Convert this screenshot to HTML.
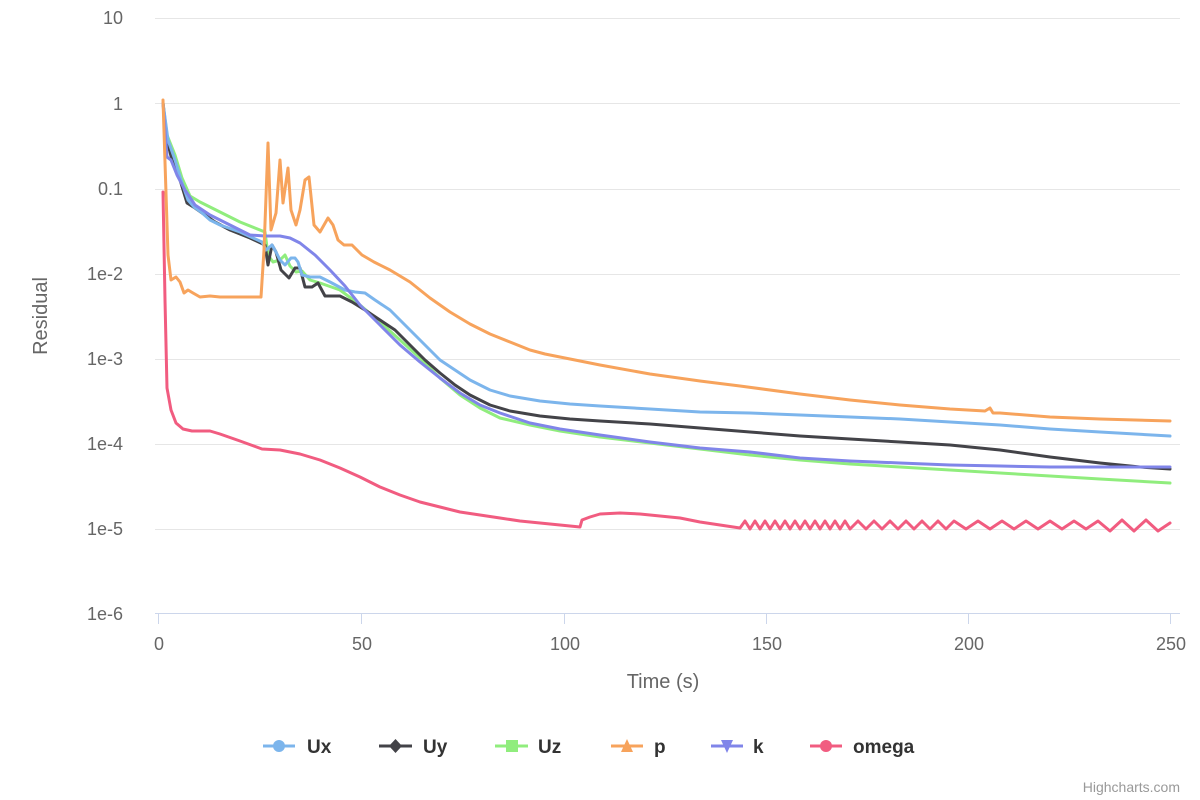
<!DOCTYPE html>
<html><head><meta charset="utf-8"><style>
html,body{margin:0;padding:0;background:#fff;}
svg{display:block;font-family:"Liberation Sans",sans-serif;}
</style></head><body>
<svg id="s" width="1200" height="800" xmlns="http://www.w3.org/2000/svg">
<g stroke="#e6e6e6" stroke-width="1">
<line x1="155" x2="1180" y1="18.5" y2="18.5"/><line x1="155" x2="1180" y1="103.5" y2="103.5"/>
<line x1="155" x2="1180" y1="189.5" y2="189.5"/><line x1="155" x2="1180" y1="274.5" y2="274.5"/>
<line x1="155" x2="1180" y1="359.5" y2="359.5"/><line x1="155" x2="1180" y1="444.5" y2="444.5"/>
<line x1="155" x2="1180" y1="529.5" y2="529.5"/>
</g>
<line x1="155" x2="1180" y1="613.5" y2="613.5" stroke="#ccd6eb"/>
<g stroke="#ccd6eb"><line x1="158.5" x2="158.5" y1="614" y2="624"/><line x1="361.5" x2="361.5" y1="614" y2="624"/><line x1="564.5" x2="564.5" y1="614" y2="624"/><line x1="766.5" x2="766.5" y1="614" y2="624"/><line x1="968.5" x2="968.5" y1="614" y2="624"/><line x1="1170.5" x2="1170.5" y1="614" y2="624"/></g>
<g fill="#666" font-size="18" text-anchor="end">
<text x="123" y="24">10</text><text x="123" y="110">1</text><text x="123" y="195">0.1</text><text x="123" y="280">1e-2</text><text x="123" y="365">1e-3</text><text x="123" y="450">1e-4</text><text x="123" y="535">1e-5</text><text x="123" y="620">1e-6</text>
</g>
<g fill="#666" font-size="18" text-anchor="middle">
<text x="159" y="650">0</text><text x="362" y="650">50</text><text x="565" y="650">100</text><text x="767" y="650">150</text><text x="969" y="650">200</text><text x="1171" y="650">250</text>
<text x="663" y="688" font-size="20">Time (s)</text>
<text transform="translate(47,316) rotate(-90)" font-size="20">Residual</text>
</g>
<g fill="none" stroke-width="3" stroke-linejoin="round" stroke-linecap="round">
<polyline id="om" stroke="#f15c80" points="163,192 165,300 167,388 171,410 176,423 183,429 192,431 200,431 210,431 220,434 240,441 262,449 280,450 300,454 320,460 340,468 360,477 380,487 400,495 420,502 440,507 460,512 480,515 500,518 520,521 540,523 560,525 580,527 582,520 590,517 600,514 620,513 640,514 660,516 680,518 700,522 720,525 740,528"/>
<polyline stroke="#90ed7d" points="163,103 167,135 175,155 182,178 190,196 200,202 220,212 240,222 265,232 268,255 273,262 280,260 285,255 290,266 296,272 302,271 310,280 320,283 340,290 360,305 380,322 400,340 420,358 440,378 460,395 480,408 500,418 530,425 560,431 600,437 650,443 700,449 750,455 800,460 850,464 900,467 950,470 1000,473 1050,476 1100,479 1170,483"/>
<polyline stroke="#434348" points="163,103 167,140 172,160 180,180 187,203 195,208 205,215 215,222 230,230 250,238 265,245 268,265 272,245 276,252 281,270 289,278 295,268 300,268 305,287 312,287 318,283 325,296 340,296 352,302 365,310 380,320 395,330 410,345 425,360 440,373 455,385 470,395 490,405 510,411 540,416 570,419 600,421 650,424 700,428 750,432 800,436 850,439 900,442 950,445 1000,450 1050,457 1100,463 1140,467 1170,469"/>
<polyline stroke="#7cb5ec" points="163,103 168,140 175,160 181,180 188,200 194,207 201,212 210,220 220,225 240,232 262,242 266,250 272,245 276,252 280,260 285,265 291,258 295,258 298,262 302,275 310,277 320,277 330,282 345,290 355,292 365,293 375,300 390,310 400,320 410,330 420,340 430,350 440,360 455,370 470,380 490,390 510,396 540,401 570,404 600,406 650,409 700,412 750,413 800,415 850,417 900,419 950,422 1000,425 1050,429 1100,432 1170,436"/>
<polyline stroke="#8085e9" points="163,103 167,157 171,160 177,175 185,190 195,205 210,215 230,225 250,235 265,236 280,236 290,238 300,243 315,255 330,270 345,286 360,305 380,325 400,345 420,362 440,378 460,393 480,405 500,413 530,423 560,429 600,435 650,442 700,448 750,452 800,458 850,461 900,463 950,465 1000,466 1050,467 1100,467 1170,467"/>
<polyline stroke="#f7a35c" points="163,100 168,255 171,280 176,277 180,282 184,293 188,290 193,293 200,297 210,296 220,297 230,297 261,297 264,250 268,143 271,230 276,213 280,160 283,203 288,168 291,210 296,225 300,210 305,180 309,177 314,225 320,232 328,218 333,225 338,240 344,245 352,245 362,255 374,262 390,270 410,282 430,298 450,312 470,324 490,334 510,342 530,350 545,354 565,358 600,365 650,374 700,381 740,386 800,394 850,400 900,405 950,409 985,411 990,408 993,413 1000,413 1050,417 1100,419 1170,421"/>
</g>
<g font-size="19" font-weight="bold" fill="#333">
<line x1="263" x2="295" y1="746" y2="746" stroke="#7cb5ec" stroke-width="3"/><circle cx="279" cy="746" r="6" fill="#7cb5ec"/><text x="307" y="753">Ux</text>
<line x1="379" x2="412" y1="746" y2="746" stroke="#434348" stroke-width="3"/><path d="M395.5 739 L402 746 L395.5 753 L389 746Z" fill="#434348"/><text x="423" y="753">Uy</text>
<line x1="495" x2="528" y1="746" y2="746" stroke="#90ed7d" stroke-width="3"/><rect x="506" y="740" width="12" height="12" fill="#90ed7d"/><text x="538" y="753">Uz</text>
<line x1="611" x2="643" y1="746" y2="746" stroke="#f7a35c" stroke-width="3"/><path d="M627 739 L633 752 L621 752Z" fill="#f7a35c"/><text x="654" y="753">p</text>
<line x1="711" x2="743" y1="746" y2="746" stroke="#8085e9" stroke-width="3"/><path d="M721 740 L733 740 L727 753Z" fill="#8085e9"/><text x="753" y="753">k</text>
<line x1="810" x2="842" y1="746" y2="746" stroke="#f15c80" stroke-width="3"/><circle cx="826" cy="746" r="6" fill="#f15c80"/><text x="853" y="753">omega</text>
</g>
<text x="1180" y="792" font-size="14" fill="#999" text-anchor="end">Highcharts.com</text>
</svg>
<script>
var p=document.getElementById('om');var pts=p.getAttribute('points');var x=740,up=true,s='';
while(x<1170){var per=x<850?5:(x<950?8:12);x+=per;var y=up?521:529;if(x>=1100)y=up?(x>1160?523:520):531;s+=' '+x+','+y;up=!up;}
s+=' 1170,523';p.setAttribute('points',pts+s);
</script>
</body></html>
